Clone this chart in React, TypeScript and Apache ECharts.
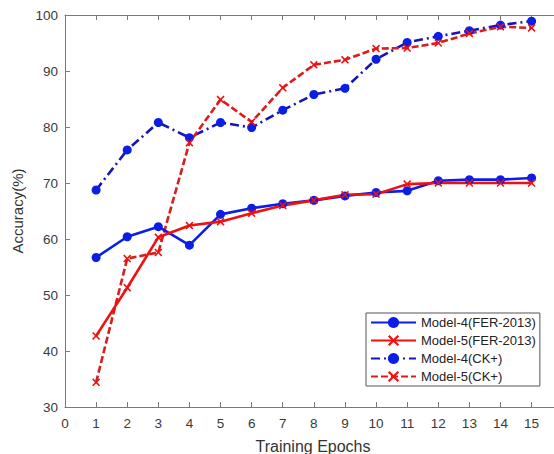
import React, { useEffect, useRef } from "react";
import * as echarts from "echarts";

const epochs = [1, 2, 3, 4, 5, 6, 7, 8, 9, 10, 11, 12, 13, 14, 15];
const model4Fer = [56.7, 60.4, 62.2, 58.9, 64.4, 65.5, 66.3, 66.9, 67.7, 68.3, 68.6, 70.4, 70.6, 70.6, 70.9];
const model5Fer = [42.7, 51.3, 60.3, 62.4, 63.1, 64.6, 66.0, 66.9, 67.9, 68.0, 69.8, 70.0, 70.0, 70.0, 70.0];
const model4Ck = [68.75, 75.9, 80.8, 78.1, 80.8, 79.9, 83.0, 85.8, 86.9, 92.1, 95.1, 96.2, 97.2, 98.2, 98.9];
const model5Ck = [34.4, 56.5, 57.6, 77.2, 84.9, 80.9, 87.0, 91.1, 92.0, 94.0, 94.1, 95.0, 96.7, 97.9, 97.7];
const seriesNames = ["Model-4(FER-2013)", "Model-5(FER-2013)", "Model-4(CK+)", "Model-5(CK+)"];

const CROSS = "path://M0,1.4L1.4,0L5,3.6L8.6,0L10,1.4L6.4,5L10,8.6L8.6,10L5,6.4L1.4,10L0,8.6L3.6,5Z";
const FONT = "Liberation Sans, Arial, sans-serif";

export default function App() {
  const ref = useRef<HTMLDivElement>(null);
  useEffect(() => {
    document.body.style.margin = "0";
    const chart = echarts.init(ref.current!, undefined, { renderer: "svg" });
    const pts = (arr: number[]) => epochs.map((e, i) => [e, arr[i]]);
    const axisLine = { lineStyle: { color: "#7a7a7a", width: 1 } };
    const intLabel = (v: number) => (Number.isInteger(v) ? String(v) : "");
    chart.setOption({
      animation: false,
      backgroundColor: "#ffffff",
      textStyle: { fontFamily: FONT },
      grid: { left: 65, top: 15, right: 0, bottom: 47, outerBoundsMode: "none", containLabel: false },
      legend: {
        orient: "vertical",
        left: 366,
        top: 313,
        padding: [3, 4, 3, 4],
        itemGap: 5,
        itemWidth: 45,
        itemHeight: 14,
        borderColor: "#555",
        borderWidth: 1,
        backgroundColor: "#fff",
        textStyle: { fontSize: 13, color: "#222", fontFamily: FONT },
        data: seriesNames,
      },
      xAxis: [
        {
          type: "value",
          min: 0,
          max: 15.72,
          interval: 1,
          position: "bottom",
          name: "Training Epochs",
          nameLocation: "middle",
          nameGap: 31,
          nameTextStyle: { fontSize: 16, color: "#333", fontFamily: FONT, padding: [0, 0, 0, 7] },
          axisLine,
          axisTick: { inside: true, length: 5, lineStyle: { color: "#7a7a7a" } },
          axisLabel: { fontSize: 13.5, color: "#3a3a3a", margin: 9, fontFamily: FONT, formatter: intLabel, showMaxLabel: false },
          splitLine: { show: false },
        },
        {
          type: "value",
          min: 0,
          max: 15.72,
          interval: 1,
          position: "top",
          axisLine,
          axisTick: { inside: true, length: 5, lineStyle: { color: "#7a7a7a" } },
          axisLabel: { show: false },
          splitLine: { show: false },
        },
      ],
      yAxis: {
        type: "value",
        min: 30,
        max: 100,
        interval: 10,
        name: "Accuracy(%)",
        nameLocation: "middle",
        nameGap: 37,
        nameTextStyle: { fontSize: 15, color: "#333", fontFamily: FONT },
        axisLine: { show: true, ...axisLine },
        axisTick: { show: true, inside: true, length: 5, lineStyle: { color: "#7a7a7a" } },
        axisLabel: { fontSize: 13.5, color: "#3a3a3a", margin: 7, fontFamily: FONT },
        splitLine: { show: false },
      },
      series: [
        {
          name: seriesNames[2],
          type: "line",
          data: pts(model4Ck),
          symbol: "circle",
          symbolSize: 9,
          lineStyle: { color: "#1515b8", width: 2.6, type: [9, 4, 2, 4] },
          itemStyle: { color: "#0a1ee6" },
        },
        {
          name: seriesNames[3],
          type: "line",
          data: pts(model5Ck),
          symbol: CROSS,
          symbolSize: 8,
          lineStyle: { color: "#d81e1e", width: 2.6, type: [7, 3] },
          itemStyle: { color: "#f01010" },
        },
        {
          name: seriesNames[0],
          type: "line",
          data: pts(model4Fer),
          symbol: "circle",
          symbolSize: 9,
          lineStyle: { color: "#0a1ee6", width: 2.6, type: "solid" },
          itemStyle: { color: "#0a1ee6" },
        },
        {
          name: seriesNames[1],
          type: "line",
          data: pts(model5Fer),
          symbol: CROSS,
          symbolSize: 8,
          lineStyle: { color: "#f01010", width: 2.6, type: "solid" },
          itemStyle: { color: "#f01010" },
        },
      ],
    });
    return () => chart.dispose();
  }, []);
  return <div ref={ref} style={{ width: 554, height: 454 }} />;
}
